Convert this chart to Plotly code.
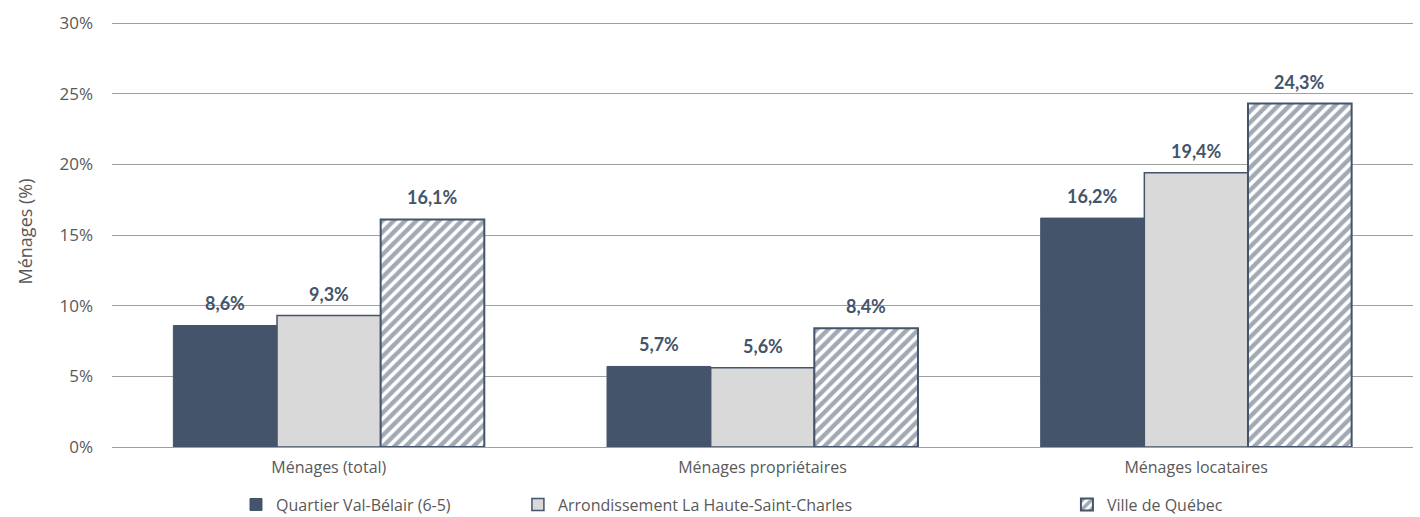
import plotly.graph_objects as go

# Household shares by tenure, three geographic levels
categories = ["Ménages (total)", "Ménages propriétaires", "Ménages locataires"]
series_names = [
    "Quartier Val-Bélair (6-5)",
    "Arrondissement La Haute-Saint-Charles",
    "Ville de Québec",
]
val_belair = [8.6, 5.7, 16.2]
haute_saint_charles = [9.3, 5.6, 19.4]
ville_quebec = [16.1, 8.4, 24.3]
y_ticks = [0, 5, 10, 15, 20, 25, 30]
y_tick_labels = ["0%", "5%", "10%", "15%", "20%", "25%", "30%"]

DARK = "#44546A"
LIGHT = "#D9D9D9"
GREY_TEXT = "#595959"
GRID = "#A0A0A0"
BAR_GAP = 0.283

fig = go.Figure()

styles = [
    dict(color=DARK, line=dict(color=DARK, width=1)),
    dict(color=LIGHT, line=dict(color=DARK, width=1.5)),
    dict(color="white", line=dict(color=DARK, width=2),
         pattern=dict(shape="/", fgcolor=DARK, bgcolor="white", size=8, solidity=0.55)),
]
legend_ids = ["legend", "legend2", "legend3"]
all_values = [val_belair, haute_saint_charles, ville_quebec]

for name, vals, st, lg in zip(series_names, all_values, styles, legend_ids):
    fig.add_trace(go.Bar(
        x=categories, y=vals, name=name, marker=st, legend=lg,
    ))

# Value labels above each bar
bar_w = (1 - BAR_GAP) / 3
for s, vals in enumerate(all_values):
    for i, v in enumerate(vals):
        fig.add_annotation(
            x=i + (s - 1) * bar_w, y=v, xref="x", yref="y",
            text=f"<b>{v:.1f}%</b>".replace(".", ","),
            showarrow=False, yanchor="middle", yshift=22,
            font=dict(family="Lato", size=18, color=DARK),
        )

legend_common = dict(
    orientation="h", yref="container", yanchor="middle", y=0.024,
    xanchor="left",
    font=dict(family="Open Sans", size=16, color=GREY_TEXT),
    bgcolor="rgba(0,0,0,0)", itemwidth=30,
)
fig.update_layout(
    width=1420, height=517,
    margin=dict(l=112, r=7, t=16, b=70),
    paper_bgcolor="white", plot_bgcolor="white",
    barmode="group", bargap=BAR_GAP, bargroupgap=0,
    showlegend=True,
    legend=dict(x=0.0953, **legend_common),
    legend2=dict(x=0.3120, **legend_common),
    legend3=dict(x=0.7340, **legend_common),
    xaxis=dict(
        showgrid=False, showline=True, linecolor=GRID, linewidth=1.3,
        tickfont=dict(family="Open Sans", size=16, color=GREY_TEXT),
        ticklabelstandoff=6,
    ),
    yaxis=dict(
        range=[0, 30.5], tickvals=y_ticks, ticktext=y_tick_labels,
        showgrid=True, gridcolor=GRID, gridwidth=1.3,
        zeroline=False, showline=False,
        tickfont=dict(family="Open Sans", size=17, color=GREY_TEXT),
        ticklabelstandoff=18,
        title=dict(text="Ménages (%)", standoff=22,
                   font=dict(family="Open Sans", size=18, color=GREY_TEXT)),
    ),
)

fig.write_html("out.html")
